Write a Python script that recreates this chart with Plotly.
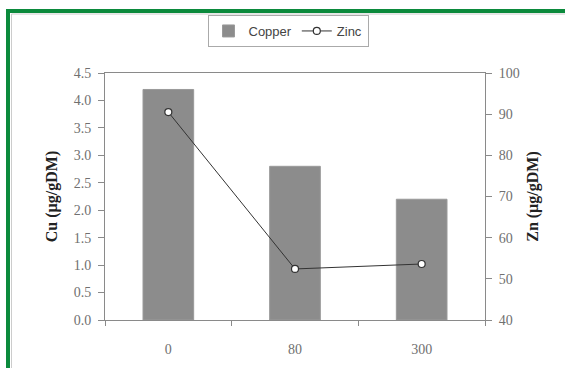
import plotly.graph_objects as go

# Treatment levels and measured concentrations
doses = ["0", "80", "300"]
copper = [4.2, 2.8, 2.2]        # µg/gDM, left axis
zinc = [90.5, 52.4, 53.6]       # µg/gDM, right axis

W, H = 565, 368
L, R, T, B = 105, 80, 73, 48
pw, ph = W - L - R, H - T - B


def px_x(px):
    return (px - L) / pw


def px_y(py):
    return (H - B - py) / ph


serif = "Liberation Serif, Times New Roman, serif"
sans = "Liberation Sans, Arial, sans-serif"
axis_col = "#8a8a8a"
tick_font = dict(family=serif, size=14, color="#707070")
title_font = dict(family=serif, size=16, color="#222222", weight="bold")

fig = go.Figure()
fig.add_trace(go.Bar(
    x=doses, y=copper, name="Copper",
    marker=dict(color="#8c8c8c", line=dict(color="#9a9a9a", width=1)),
    width=0.4, yaxis="y",
))
fig.add_trace(go.Scatter(
    x=doses, y=zinc, name="Zinc", mode="lines+markers",
    line=dict(color="#333333", width=1),
    marker=dict(symbol="circle", size=7, color="white",
                line=dict(color="#333333", width=1.2)),
    yaxis="y2",
))

fig.update_layout(
    width=W, height=H,
    margin=dict(l=L, r=R, t=T, b=B),
    paper_bgcolor="white", plot_bgcolor="white",
    showlegend=True,
    legend=dict(
        orientation="h", x=px_x(288), y=px_y(15), xanchor="center", yanchor="top",
        bordercolor="#aaaaaa", borderwidth=1, bgcolor="white",
        font=dict(family=sans, size=13, color="#444444"),
        itemwidth=30, tracegroupgap=0,
    ),
    xaxis=dict(
        type="category", tickson="boundaries", ticks="outside", ticklen=5,
        tickcolor=axis_col, showline=True, linecolor=axis_col, mirror=True,
        showgrid=False, tickfont=tick_font, ticklabelstandoff=16,
    ),
    yaxis=dict(
        range=[0, 4.5], dtick=0.5, tickformat=".1f", ticks="outside", ticklen=6,
        tickcolor=axis_col, showline=True, linecolor=axis_col, showgrid=False,
        zeroline=False, tickfont=tick_font, ticklabelstandoff=4,
        title=dict(text="Cu (µg/gDM)", font=title_font, standoff=12),
    ),
    yaxis2=dict(
        range=[40, 100], dtick=10, overlaying="y", side="right", ticks="outside", ticklen=6,
        tickcolor=axis_col, showline=True, linecolor=axis_col, showgrid=False,
        zeroline=False, tickfont=tick_font, ticklabelstandoff=4,
        title=dict(text="Zn (µg/gDM)", font=title_font, standoff=8),
    ),
    shapes=[
        # outer green frame
        dict(type="rect", xref="paper", yref="paper",
             x0=px_x(8), x1=px_x(600), y0=px_y(400), y1=px_y(11),
             line=dict(color="#0b8a3c", width=4), fillcolor="rgba(0,0,0,0)", layer="above"),
        # thin inner grey rule
        dict(type="rect", xref="paper", yref="paper",
             x0=px_x(11.5), x1=px_x(600), y0=px_y(400), y1=px_y(14),
             line=dict(color="#cccccc", width=1), fillcolor="rgba(0,0,0,0)", layer="above"),
    ],
)

fig.write_html("out.html")
